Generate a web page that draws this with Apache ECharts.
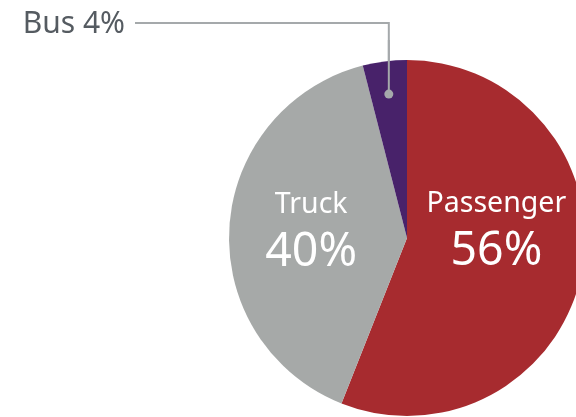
<!DOCTYPE html>
<html>
<head>
<meta charset="utf-8">
<script src="https://cdn.jsdelivr.net/npm/echarts@6/dist/echarts.min.js"></script>
<style>
  html, body { margin: 0; padding: 0; background: #fff; }
  #main { width: 576px; height: 417px; }
</style>
</head>
<body>
<div id="main"></div>
<script>
const categories = ['Passenger', 'Truck', 'Bus']
const shares = [56, 40, 4]
const colors = ['#a72b2f', '#a6a9a8', '#48226a']

const chart = echarts.init(document.getElementById('main'))

// inside labels get nudged a bit so the two lines sit like the original
const insideOffsets = [[-1, -25], [-4, -1]]

const seriesData = categories.map((name, i) => {
  const item = { name: name, value: shares[i], itemStyle: { color: colors[i] } }
  if (i < 2) {
    item.label = { position: 'inside', offset: insideOffsets[i] }
    item.labelLine = { show: false }
  } else {
    item.label = {
      position: 'outside',
      formatter: '{o|{b} {d}%}'
    }
    item.labelLine = { show: true }
  }
  return item
})

function dotPoint() {
  const lay = chart.getModel().getSeriesByIndex(0).getData().getItemLayout(2)
  const mid = (lay.startAngle + lay.endAngle) / 2
  return [lay.cx + lay.r * 0.815 * Math.cos(mid), lay.cy + lay.r * 0.815 * Math.sin(mid)]
}

function busLayout(params) {
  if (params.dataIndex !== 2) return {}
  const p = dotPoint()
  return {
    x: 125,
    y: 24,
    align: 'right',
    verticalAlign: 'middle',
    labelLinePoints: [[p[0], p[1]], [p[0], 23], [135, 23]]
  }
}

chart.setOption({
  animation: false,
  series: [{
    type: 'pie',
    center: [407, 238],
    radius: 178,
    startAngle: 90,
    clockwise: true,
    avoidLabelOverlap: false,
    label: {
      color: '#fff',
      fontFamily: 'Noto Sans',
      formatter: '{n|{b}}\n{v|{d}%}',
      rich: {
        n: { fontSize: 28.5, lineHeight: 44, color: '#fff', fontFamily: 'Noto Sans' },
        v: { fontSize: 46.5, lineHeight: 52, color: '#fff', fontFamily: 'Noto Sans' },
        o: { fontSize: 30, color: '#555b61', fontFamily: 'Noto Sans' }
      }
    },
    labelLine: {
      showAbove: true,
      lineStyle: { color: '#a5a9ab', width: 2 }
    },
    labelLayout: busLayout,
    emphasis: { disabled: true },
    data: seriesData
  }]
})

// the piece of the leader line that runs over the bus slice, plus its dot
const p = dotPoint()
chart.setOption({
  graphic: [{
    type: 'line',
    shape: { x1: p[0], y1: p[1], x2: p[0], y2: 40 },
    style: { stroke: '#a5a9ab', lineWidth: 2 },
    z: 100
  }, {
    type: 'circle',
    shape: { cx: p[0], cy: p[1], r: 4.5 },
    style: { fill: '#a5a9ab' },
    z: 100
  }]
})
</script>
</body>
</html>
